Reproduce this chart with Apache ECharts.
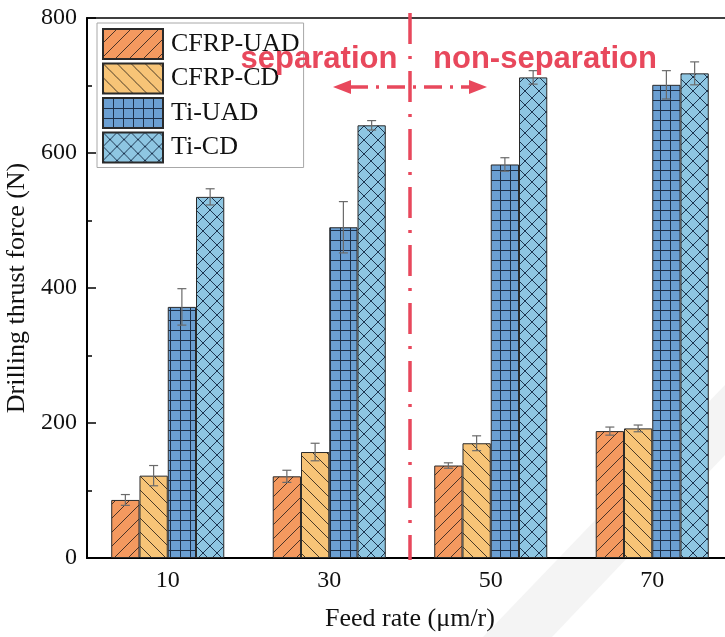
<!DOCTYPE html>
<html>
<head>
<meta charset="utf-8">
<script src="https://cdn.jsdelivr.net/npm/echarts@6/dist/echarts.min.js"></script>
<style>
html,body{margin:0;padding:0;background:#fff;}
#chart{width:725px;height:637px;}
</style>
</head>
<body>
<div id="chart"></div>
<script>
// ---- data ----
const categories = ['10', '30', '50', '70'];
const seriesNames = ['CFRP-UAD', 'CFRP-CD', 'Ti-UAD', 'Ti-CD'];
const cfrpUAD = [86, 121, 137, 188];
const cfrpUADErr = [8, 9, 4, 6];
const cfrpCD = [122, 157, 170, 192];
const cfrpCDErr = [15, 13, 11, 5];
const tiUAD = [372, 490, 583, 701];
const tiUADErr = [27, 38, 10, 21];
const tiCD = [535, 641, 712, 718];
const tiCDErr = [12, 7, 10, 17];
const yTicks = [0, 200, 400, 600, 800];

const values = [cfrpUAD, cfrpCD, tiUAD, tiCD];
const errors = [cfrpUADErr, cfrpCDErr, tiUADErr, tiCDErr];

// ---- patterns ----
function makePattern(bg, type, lineColor) {
  const s = type === 'grid' ? 10 : 14;
  const c = document.createElement('canvas');
  c.width = s; c.height = s;
  const g = c.getContext('2d');
  g.fillStyle = bg;
  g.fillRect(0, 0, s, s);
  g.strokeStyle = lineColor;
  g.lineWidth = 1;
  g.beginPath();
  if (type === 'fwd' || type === 'cross') {
    for (const x0 of [-s, 0, s]) { g.moveTo(x0, s); g.lineTo(x0 + s, 0); }
  }
  if (type === 'back' || type === 'cross') {
    for (const x0 of [-s, 0, s]) { g.moveTo(x0, 0); g.lineTo(x0 + s, s); }
  }
  if (type === 'grid') {
    g.moveTo(0.5, 0); g.lineTo(0.5, s);
    g.moveTo(0, 0.5); g.lineTo(s, 0.5);
  }
  g.stroke();
  return { image: c, repeat: 'repeat' };
}
const fills = [
  makePattern('#F4995F', 'fwd', '#4a3326'),
  makePattern('#F7C477', 'back', '#4a3a26'),
  makePattern('#6B9FD2', 'grid', '#1d2f48'),
  makePattern('#8EC6E2', 'cross', '#1d3550')
];

const CAT_GAP = 0.30;
const chart = echarts.init(document.getElementById('chart'), null, { renderer: 'canvas' });

const barSeries = seriesNames.map((name, k) => ({
  name: name,
  type: 'bar',
  data: values[k],
  barGap: '0%',
  barCategoryGap: (CAT_GAP * 100) + '%',
  itemStyle: { color: fills[k], borderColor: '#2a2a2a', borderWidth: 1 },
  emphasis: { disabled: true },
  z: 2
}));

const errSeries = seriesNames.map((name, k) => ({
  name: name + ' err',
  type: 'custom',
  z: 5,
  silent: true,
  data: categories.map((c, i) => [i, values[k][i], errors[k][i]]),
  renderItem: function (params, api) {
    const idx = api.value(0), v = api.value(1), e = api.value(2);
    const band = api.size([1, 0])[0];
    const barW = band * (1 - CAT_GAP) / 4;
    const center = api.coord([idx, v])[0];
    const cx = center + (k - 1.5) * barW;
    const yT = api.coord([idx, v + e])[1];
    const yB = api.coord([idx, v - e])[1];
    const cap = 4.5;
    const st = { stroke: '#6a6a6a', lineWidth: 1.2 };
    return {
      type: 'group',
      children: [
        { type: 'line', shape: { x1: cx, y1: yT, x2: cx, y2: yB }, style: st },
        { type: 'line', shape: { x1: cx - cap, y1: yT, x2: cx + cap, y2: yT }, style: st },
        { type: 'line', shape: { x1: cx - cap, y1: yB, x2: cx + cap, y2: yB }, style: st }
      ]
    };
  }
}));

const RED = '#E8485C';
const serif = '"Liberation Serif", "Times New Roman", serif';

chart.setOption({
  animation: false,
  backgroundColor: '#fff',
  grid: { left: 87, top: 18, width: 646, height: 540, outerBoundsMode: 'none', containLabel: false, show: true, borderColor: '#000', borderWidth: 1.5, backgroundColor: 'transparent' },
  legend: {
    data: seriesNames,
    orient: 'vertical',
    left: 97, top: 23,
    padding: [5, 4, 4, 5],
    itemGap: 2.5,
    itemWidth: 60,
    itemHeight: 30,
    icon: 'rect',
    backgroundColor: '#fff',
    borderColor: '#a8a8a8',
    borderWidth: 1,
    selectedMode: false,
    textStyle: { fontFamily: serif, fontSize: 26, lineHeight: 28, color: '#111', padding: [0, 0, 0, 3] }
  },
  xAxis: {
    type: 'category',
    data: categories,
    name: 'Feed rate (\u03bcm/r)',
    nameLocation: 'middle',
    nameGap: 48,
    nameTextStyle: { fontFamily: serif, fontSize: 26, color: '#111' },
    axisLine: { show: true, lineStyle: { color: '#000', width: 2 } },
    axisTick: { show: false },
    axisLabel: { fontFamily: serif, fontSize: 24, color: '#111', margin: 11 },
    splitLine: { show: false }
  },
  yAxis: {
    type: 'value',
    min: yTicks[0], max: yTicks[yTicks.length - 1], interval: yTicks[1] - yTicks[0],
    name: 'Drilling thrust force (N)',
    nameLocation: 'middle',
    nameGap: 46,
    nameTextStyle: { fontFamily: serif, fontSize: 26, color: '#111' },
    axisLine: { show: true, lineStyle: { color: '#000', width: 2 } },
    axisTick: { show: true, inside: true, length: 9, lineStyle: { color: '#000', width: 1.5 } },
    minorTick: { show: true, splitNumber: 2, length: 5, lineStyle: { color: '#000', width: 1.5 } },
    axisLabel: { fontFamily: serif, fontSize: 24, color: '#111', margin: 10 },
    splitLine: { show: false },
    minorSplitLine: { show: false }
  },
  series: barSeries.concat(errSeries),
  graphic: [
    { type: 'polygon', z: -10, silent: true, shape: { points: [[483, 637], [552, 637], [725, 455], [725, 385]] }, style: { fill: '#f4f4f4' } },
    { type: 'line', z: 100, silent: true, shape: { x1: 410, y1: 13, x2: 410, y2: 560 }, style: { stroke: RED, lineWidth: 3.5, lineDash: [31, 12, 3, 12] } },
    { type: 'line', z: 100, silent: true, shape: { x1: 350, y1: 87, x2: 470, y2: 87 }, style: { stroke: RED, lineWidth: 3.5, lineDash: [18, 8, 3, 8] } },
    { type: 'polygon', z: 100, silent: true, shape: { points: [[333, 87], [351, 80], [351, 94]] }, style: { fill: RED } },
    { type: 'polygon', z: 100, silent: true, shape: { points: [[487, 87], [469, 80], [469, 94]] }, style: { fill: RED } },
    { type: 'text', z: 100, silent: true, style: { text: 'separation', x: 319, y: 59, align: 'center', verticalAlign: 'middle', font: 'bold 31px "Liberation Sans", Arial, sans-serif', fill: RED } },
    { type: 'text', z: 100, silent: true, style: { text: 'non-separation', x: 545, y: 59, align: 'center', verticalAlign: 'middle', font: 'bold 31px "Liberation Sans", Arial, sans-serif', fill: RED } }
  ]
});
</script>
</body>
</html>
